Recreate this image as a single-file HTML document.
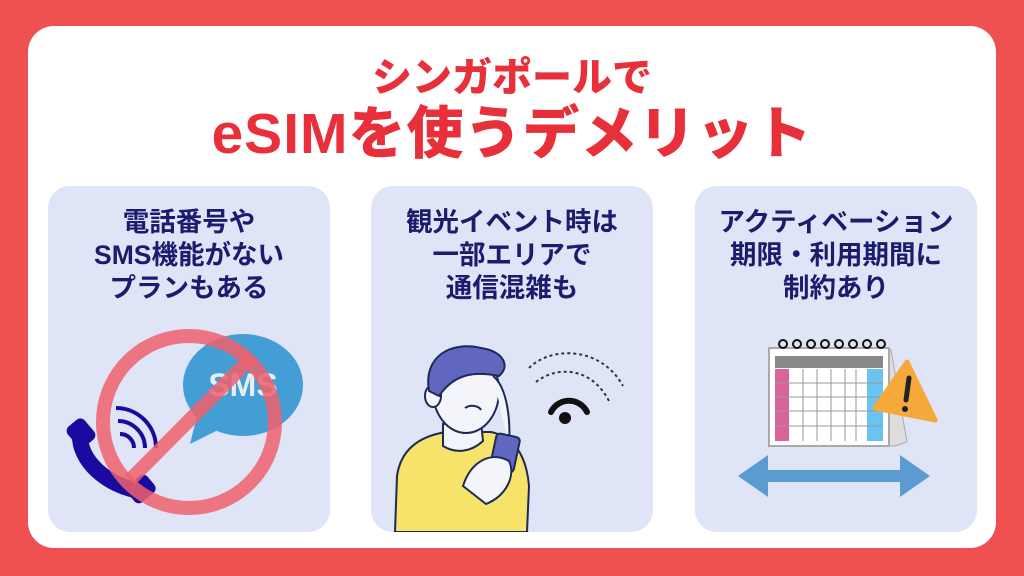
<!DOCTYPE html>
<html><head><meta charset="utf-8"><style>
body{margin:0;width:1024px;height:576px;background:#ef5151;overflow:hidden;font-family:"Liberation Sans","Noto Sans CJK JP",sans-serif;}
.card{position:absolute;left:28px;top:26px;width:968px;height:522px;background:#fff;border-radius:26px;}
.t1,.t2{position:absolute;left:0;width:1024px;text-align:center;color:#e8303a;font-weight:900;}
.t1{top:53px;font-size:40px;line-height:50px;}
.t2{top:100px;font-size:57px;line-height:68px;letter-spacing:1px;}
.p{position:absolute;top:186px;width:282px;height:346px;background:#dfe5f6;border-radius:22px;}
.pt{position:absolute;top:20px;left:0;width:100%;text-align:center;color:#1c1c6e;font-weight:700;font-size:26.5px;line-height:33px;white-space:nowrap;}
svg{position:absolute;left:0;top:0}
</style></head><body>
<div class="card"></div>
<div class="t1">シンガポールで</div>
<div class="t2">eSIMを使うデメリット</div>

<div class="p" style="left:48px">
<div class="pt">電話番号や<br>SMS機能がない<br>プランもある</div>
<svg width="282" height="346">
<ellipse cx="195" cy="199" rx="60" ry="51" fill="#449ed6"/>
<polygon points="150,226 142,258 178,240" fill="#449ed6"/>
<text x="195" y="210" text-anchor="middle" font-family="Liberation Sans" font-weight="700" font-size="32" fill="#e8eef8">SMS</text>
<path d="M32,247 C30,275 60,300 92,305" stroke="#1a0aa0" stroke-width="16" fill="none" stroke-linecap="round"/>
<rect x="22" y="234" width="22" height="26" rx="6" fill="#1a0aa0" transform="rotate(-40 33 247)"/>
<rect x="80" y="292" width="26" height="22" rx="6" fill="#1a0aa0" transform="rotate(-40 93 303)"/>
<path d="M68,222 A40,40 0 0 1 108,262" stroke="#1a0aa0" stroke-width="4" fill="none"/>
<path d="M70,235 A27,27 0 0 1 97,262" stroke="#1a0aa0" stroke-width="4" fill="none"/>
<path d="M72,248 A14,14 0 0 1 86,262" stroke="#1a0aa0" stroke-width="4" fill="none"/>
<circle cx="141" cy="236" r="86" stroke="#f0606c" stroke-opacity=".85" stroke-width="14" fill="none"/>
<line x1="82" y1="294" x2="203" y2="172" stroke="#f0606c" stroke-opacity=".85" stroke-width="14"/>
</svg></div>

<div class="p" style="left:371px">
<div class="pt">観光イベント時は<br>一部エリアで<br>通信混雑も</div>
<svg width="282" height="346">
<path d="M158,182 C180,160 230,160 252,200" stroke="#333" stroke-width="2" stroke-dasharray="3 3" fill="none"/>
<path d="M165,196 C185,180 220,180 238,215" stroke="#333" stroke-width="2" stroke-dasharray="3 3" fill="none"/>
<path d="M180,226 A20,20 0 0 1 216,226" stroke="#111" stroke-width="6" fill="none" stroke-linecap="round"/>
<circle cx="194" cy="232" r="6" fill="#111"/>
<path d="M24,346 L26,290 C30,262 50,250 75,246 L120,246 C140,250 155,265 158,300 L156,346 Z" fill="#f7e36a" stroke="#1c2a55" stroke-width="2"/>
<path d="M72,238 L72,260 C85,268 100,266 112,255 L110,236 Z" fill="#f4f5fa" stroke="#1c2a55" stroke-width="2"/>
<ellipse cx="95" cy="205" rx="33" ry="42" fill="#f4f5fa" stroke="#1c2a55" stroke-width="2"/>
<ellipse cx="62" cy="210" rx="8" ry="11" fill="#f4f5fa" stroke="#1c2a55" stroke-width="2"/>
<path d="M58,205 C52,170 80,155 110,162 C132,165 140,180 128,190 C108,186 85,185 68,210 Z" fill="#6166c0" stroke="#1c2a55" stroke-width="2"/>
<path d="M94,222 C100,218 108,220 110,224" stroke="#1c2a55" stroke-width="2" fill="none"/>
<path d="M122,190 C135,200 140,230 138,260" stroke="#1c2a55" stroke-width="2" fill="#f4f5fa"/>
<rect x="122" y="249" width="24" height="36" rx="4" fill="#6166c0" stroke="#1c2a55" stroke-width="2" transform="rotate(12 134 267)"/>
<path d="M92,300 C100,275 120,265 138,275 C145,290 135,310 115,318 Z" fill="#f4f5fa" stroke="#1c2a55" stroke-width="2"/>
</svg></div>

<div class="p" style="left:695px">
<div class="pt">アクティベーション<br>期限・利用期間に<br>制約あり</div>
<svg width="282" height="346">
<polygon points="185,164 196,164 212,256 200,260 185,260" fill="#ddd" stroke="#aaa"/>
<rect x="74" y="162" width="120" height="98" fill="#fff" stroke="#aaa" stroke-width="2"/>
<rect x="80" y="170" width="108" height="12" fill="#888"/>
<rect x="80" y="183" width="14" height="72" fill="#d9649a"/>
<rect x="172" y="183" width="16" height="72" fill="#6ac4f0"/>
<g stroke="#999" stroke-width="1">
<line x1="80" y1="197" x2="188" y2="197"/><line x1="80" y1="211" x2="188" y2="211"/><line x1="80" y1="225" x2="188" y2="225"/><line x1="80" y1="240" x2="188" y2="240"/>
<line x1="108" y1="183" x2="108" y2="255"/><line x1="122" y1="183" x2="122" y2="255"/><line x1="136" y1="183" x2="136" y2="255"/><line x1="150" y1="183" x2="150" y2="255"/><line x1="161" y1="183" x2="161" y2="255"/>
</g>
<g stroke="#111" stroke-width="2" fill="none">
<circle cx="88" cy="158" r="4"/><circle cx="102" cy="158" r="4"/><circle cx="116" cy="158" r="4"/><circle cx="130" cy="158" r="4"/><circle cx="144" cy="158" r="4"/><circle cx="158" cy="158" r="4"/><circle cx="172" cy="158" r="4"/><circle cx="186" cy="158" r="4"/>
</g>
<polygon points="212,176 240,234 180,222" fill="#f5a93a" stroke="#f5a93a" stroke-width="5" stroke-linejoin="round"/>
<path d="M214,192 L211,214" stroke="#222" stroke-width="5" stroke-linecap="round"/>
<circle cx="210" cy="223" r="3" fill="#222"/>
<polygon points="43,290 73,269 73,284 205,284 205,269 235,290 205,311 205,296 73,296 73,311" fill="#5b9bd1"/>
</svg></div>
</body></html>
